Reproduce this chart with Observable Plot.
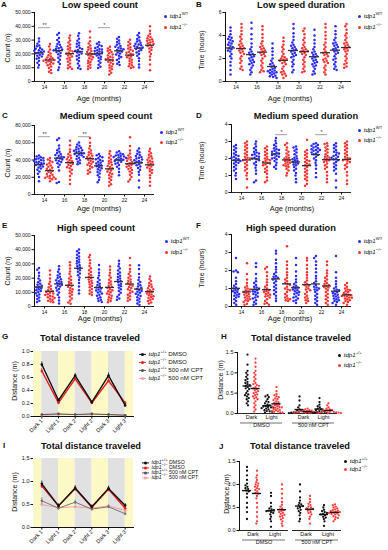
<!DOCTYPE html>
<html><head><meta charset="utf-8">
<script src="https://cdn.jsdelivr.net/npm/d3@7"></script>
<script src="https://cdn.jsdelivr.net/npm/@observablehq/plot@0.6"></script>
<style>
html,body{margin:0;padding:0;background:#fff;}
#root{position:relative;width:388px;height:550px;overflow:hidden;font-family:"Liberation Sans",Arial,Helvetica,sans-serif;color:#111;}
.a{position:absolute;white-space:nowrap;line-height:1;}
.t{font-weight:bold;font-size:9.3px;transform:translate(-50%,-50%);}
.l{font-weight:bold;font-size:8px;}
.yl{font-size:7px;transform:translate(-50%,-50%) rotate(-90deg);}
.xl{font-size:7.4px;transform:translate(-50%,-50%);}
.lg{font-size:6.2px;transform:translateY(-50%);}
.lg sup{font-size:4.2px;vertical-align:3px;line-height:0;}
.sm{font-size:5.2px;}
.dt{display:inline-block;width:3.2px;height:3.2px;border-radius:50%;margin-right:2.5px;vertical-align:middle;}
.ln{display:inline-block;width:7px;height:1.3px;margin-right:2.5px;vertical-align:middle;position:relative;}
.ln b{position:absolute;left:2px;top:-1px;width:3.2px;height:3.2px;border-radius:50%;}
svg{display:block;}
</style></head><body><div id="root"></div>
<script>
// ---------- categories & tick labels ----------
const ages = [14, 16, 18, 20, 22, 24];
const days = ["Dark 1", "Light 1", "Dark 2", "Light 2", "Dark 3", "Light 3"];
const treatments = ["DMSO", "500 nM CPT"];
const phases = ["Dark", "Light"];
const countTicks50 = [0, 10000, 20000, 30000, 40000, 50000];
const countTicks80 = [0, 20000, 40000, 60000, 80000];
const hourTicks6 = [0, 2, 4, 6];
const hourTicks4 = [0, 1, 2, 3, 4];
const distTicks1 = [0, 0.2, 0.4, 0.6, 0.8, 1.0];
const distTicks15 = [0, 0.5, 1.0, 1.5];

// ---------- A: low speed count (per age 14..24) ----------
const lowCountWT = [
 [31200,28900,27400,26100,25500,24300,23800,23100,22600,22200,21700,21300,20800,20400,19900,19300,18700,18100,17200,16400,15100,13600,12000,10200],
 [35200,33800,31500,30100,28700,27200,26600,25400,24900,24100,23600,23200,22700,22100,21400,20600,19700,18500,17300,15800,14200,12600,10100,8300],
 [35000,33200,31000,29500,28100,27300,26000,25100,24200,23500,22900,22300,21600,21000,20200,19300,18400,17200,16000,14800,13100,11500,9800,9000],
 [28400,27300,26500,25700,25000,24300,23600,23100,22600,22100,21700,21200,20700,20100,19400,18800,18000,17200,16100,14900,13500,12100,10700,9800],
 [32300,31000,29800,28600,27500,26600,25800,25100,24500,23900,23400,22900,22300,21700,21000,20300,19500,18600,17700,16600,15500,14200,12800,11900],
 [35100,33500,32000,30800,29800,28900,28100,27400,26800,26200,25700,25200,24700,24100,23500,22800,22000,21100,20000,18600,16900,14800,12300,10100]];
const lowCountKO = [
 [27100,25300,23200,21600,20300,19100,18200,17400,16800,16300,15900,15500,15100,14700,14200,13700,13100,12500,11700,10800,9700,8400,7100,6200],
 [33400,31600,29800,28300,26800,25600,24500,23400,22500,21700,21000,20300,19600,18900,18100,17300,16400,15400,14300,13100,11700,10500,9600,9100],
 [36200,31900,29100,27500,26100,24900,23900,23000,22100,21300,20500,19800,19100,18400,17600,16800,16000,15100,14200,13200,12100,11000,9900,9100],
 [25200,24000,22900,22100,21300,20400,19600,18800,18000,17400,16800,16200,15600,15000,14300,13500,12700,11800,10900,9900,8900,7800,6300,5100],
 [30200,28700,27300,26000,24900,23900,23000,22200,21500,20800,20100,19500,18900,18200,17500,16700,15800,14800,13800,12800,11800,11000,10300,9800],
 [40100,36800,34600,33200,32200,31400,30700,30100,29500,28900,28300,27700,27100,26400,25700,24900,24000,22900,21600,20000,18100,15800,12400,8200]];
const sigA = [{age: 14, y: 39000, label: "**"}, {age: 20, y: 39000, label: "*"}];

// ---------- B: low speed duration (hours) ----------
const lowDurWT = [
 [4.7,4.4,4.1,3.9,3.8,3.7,3.6,3.5,3.4,3.3,3.2,3.1,3.0,2.9,2.8,2.7,2.6,2.4,2.2,2.0,1.7,1.4,1.0,0.6],
 [5.1,4.6,4.1,3.7,3.3,3.0,2.8,2.6,2.5,2.4,2.3,2.2,2.1,2.0,1.9,1.8,1.7,1.6,1.5,1.4,1.2,1.0,0.8,0.6],
 [3.3,2.9,2.6,2.3,2.0,1.8,1.6,1.5,1.4,1.3,1.2,1.1,1.0,0.95,0.9,0.85,0.8,0.75,0.7,0.6,0.5,0.45,0.4,0.3],
 [5.0,4.6,4.2,3.9,3.6,3.4,3.2,3.1,3.0,2.9,2.8,2.7,2.6,2.5,2.4,2.3,2.2,2.1,1.9,1.7,1.5,1.3,1.0,0.8],
 [4.5,4.0,3.6,3.3,3.0,2.8,2.6,2.5,2.4,2.3,2.2,2.1,2.0,1.9,1.8,1.7,1.6,1.5,1.4,1.3,1.1,0.9,0.7,0.6],
 [4.8,4.4,4.1,3.8,3.6,3.4,3.3,3.2,3.1,3.0,2.9,2.8,2.7,2.6,2.5,2.4,2.2,2.0,1.9,1.7,1.5,1.3,1.1,1.0]];
const lowDurKO = [
 [5.0,4.7,4.4,4.1,3.9,3.7,3.5,3.3,3.2,3.1,3.0,2.9,2.8,2.7,2.6,2.5,2.4,2.2,2.0,1.8,1.6,1.3,1.1,1.0],
 [4.8,4.5,4.1,3.8,3.5,3.3,3.1,3.0,2.9,2.8,2.7,2.6,2.5,2.4,2.3,2.2,2.0,1.8,1.6,1.4,1.2,1.0,0.9,0.8],
 [3.8,3.5,3.2,3.0,2.8,2.6,2.4,2.2,2.1,2.0,1.95,1.9,1.8,1.7,1.6,1.5,1.3,1.1,0.9,0.8,0.7,0.6,0.5,0.3],
 [4.6,4.4,4.1,3.8,3.6,3.4,3.2,3.0,2.9,2.8,2.7,2.65,2.6,2.5,2.4,2.3,2.1,1.9,1.7,1.5,1.3,1.1,0.9,0.8],
 [5.0,4.7,4.3,4.0,3.7,3.4,3.2,3.0,2.8,2.6,2.5,2.4,2.3,2.2,2.0,1.9,1.8,1.7,1.6,1.4,1.2,1.0,0.8,0.6],
 [5.0,4.8,4.5,4.2,4.0,3.8,3.6,3.4,3.3,3.2,3.1,3.0,2.9,2.8,2.7,2.6,2.4,2.2,2.0,1.8,1.6,1.5,1.3,1.2]];

// ---------- C: medium speed count ----------
const medCountWT = [
 [45300,44200,43100,42400,41600,40800,40100,39400,38700,38000,37300,36600,35900,35100,34300,33400,32400,31300,30100,28600,26700,24200,20400,15300],
 [65200,63100,56800,53400,51200,49500,48100,46900,45800,44900,44000,43200,42400,41600,40700,39800,38800,37600,36200,34400,31800,27900,14600,13200],
 [60300,58100,56500,55200,54100,53100,52200,51400,50600,49900,49200,48500,47800,47100,46300,45500,44600,43600,42500,41200,39700,38000,36200,35000],
 [47100,45600,44300,43100,42000,40900,39900,38900,37900,36900,35900,34900,33900,32800,31700,30500,29200,27800,26200,24400,22300,19900,16800,14200],
 [50100,48700,47600,46700,45900,45200,44600,44000,43400,42800,42200,41600,41000,40300,39600,38800,37900,36900,35700,34200,32300,29800,26100,22200],
 [53200,50800,48900,47300,45900,44700,43600,42600,41600,40700,39800,38900,38000,37100,36100,35000,33800,32400,30800,28800,26200,22800,16100,8200]];
const medCountKO = [
 [42300,40600,39100,37600,36200,34900,33600,32300,31100,29900,28700,27500,26300,25100,23900,22800,21800,20900,20100,19400,18800,18200,17600,15300],
 [62400,57100,52300,49200,46900,45100,43600,42200,40900,39700,38600,37500,36400,35300,34200,33000,31700,30300,28700,26800,24400,21400,17200,12100],
 [65400,60100,56200,53300,51000,49100,47500,46100,44800,43600,42500,41400,40300,39200,38100,36900,35700,34400,33000,31500,29800,27900,25900,24100],
 [50200,47300,44800,42600,40700,38900,37300,35800,34400,33100,31800,30500,29200,27900,26600,25200,23800,22300,20600,18800,16700,14400,12000,10100],
 [66300,56100,50900,47600,45200,43300,41700,40300,39000,37800,36600,35500,34400,33300,32200,31000,29700,28300,26700,24900,22800,20300,17500,15100],
 [53100,50200,47900,46000,44400,42900,41600,40400,39200,38100,37000,35900,34800,33700,32500,31300,30000,28500,26900,24900,22400,19100,14800,10200]];
const sigC = [{age: 14, y: 67000, label: "**"}, {age: 18, y: 67000, label: "**"}];

// ---------- D: medium speed duration ----------
const medDurWT = [
 [2.8,2.7,2.6,2.5,2.4,2.3,2.2,2.15,2.1,2.05,2.0,1.95,1.9,1.85,1.8,1.75,1.7,1.6,1.5,1.4,1.3,1.15,1.0,0.8],
 [3.0,2.85,2.7,2.6,2.5,2.4,2.35,2.3,2.25,2.2,2.15,2.1,2.05,2.0,1.95,1.9,1.8,1.7,1.6,1.45,1.3,1.1,0.7,0.6],
 [3.2,3.05,2.9,2.8,2.7,2.6,2.55,2.5,2.45,2.4,2.35,2.3,2.25,2.2,2.15,2.1,2.05,2.0,1.95,1.85,1.75,1.6,1.5,1.4],
 [2.7,2.65,2.55,2.45,2.35,2.25,2.15,2.05,2.0,1.95,1.9,1.85,1.8,1.75,1.7,1.65,1.6,1.5,1.4,1.3,1.15,1.0,0.8,0.6],
 [2.9,2.85,2.8,2.75,2.7,2.65,2.6,2.55,2.5,2.5,2.45,2.4,2.35,2.3,2.25,2.2,2.1,2.0,1.9,1.75,1.6,1.4,1.15,0.9],
 [2.9,2.8,2.7,2.6,2.5,2.4,2.35,2.3,2.2,2.15,2.1,2.05,2.0,1.95,1.9,1.8,1.7,1.6,1.5,1.4,1.3,1.1,0.7,0.3]];
const medDurKO = [
 [3.0,2.9,2.8,2.7,2.6,2.5,2.4,2.3,2.2,2.1,2.05,2.0,1.95,1.9,1.8,1.7,1.6,1.5,1.4,1.3,1.15,1.0,0.8,0.3],
 [2.7,2.6,2.5,2.4,2.3,2.2,2.1,2.0,1.95,1.9,1.85,1.8,1.75,1.7,1.65,1.6,1.5,1.4,1.3,1.2,1.1,0.9,0.7,0.6],
 [2.9,2.8,2.65,2.5,2.4,2.3,2.2,2.1,2.05,2.0,1.95,1.9,1.85,1.8,1.75,1.7,1.65,1.6,1.55,1.5,1.4,1.3,1.15,1.0],
 [3.1,2.5,2.4,2.3,2.2,2.1,2.0,1.9,1.85,1.8,1.7,1.65,1.6,1.5,1.4,1.3,1.2,1.1,1.0,0.9,0.8,0.7,0.5,0.4],
 [2.9,2.85,2.75,2.65,2.55,2.45,2.35,2.25,2.15,2.1,2.05,2.0,1.95,1.9,1.85,1.8,1.7,1.6,1.5,1.4,1.2,1.0,0.8,0.6],
 [3.0,2.9,2.8,2.7,2.6,2.5,2.4,2.3,2.2,2.1,2.05,2.0,1.95,1.9,1.85,1.8,1.7,1.6,1.5,1.4,1.2,1.0,0.7,0.5]];
const sigD = [{age: 18, y: 3.4, label: "*"}, {age: 22, y: 3.4, label: "*"}];

// ---------- E: high speed count ----------
const highCountWT = [
 [27200,25800,23700,21600,19800,18300,17100,16100,15300,14600,13900,13300,12700,12100,11500,10900,10200,9400,8500,7500,6400,5200,4100,3200],
 [28400,26200,24500,23100,21900,20900,20000,19200,18500,17800,17200,16600,16000,15400,14700,14000,13200,12300,11200,9900,8300,6400,4200,2100],
 [40100,38900,37600,36400,35200,34100,33100,32100,31100,30200,29300,28400,27500,26600,25600,24500,23300,22000,20500,18700,16600,14100,11400,9200],
 [29300,26100,23800,21800,20100,18600,17300,16100,15100,14200,13400,12600,11900,11200,10500,9800,9100,8300,7500,6600,5700,4800,3900,3100],
 [32200,30100,28300,26700,25300,24000,22800,21700,20700,19700,18800,17900,17000,16100,15200,14200,13200,12100,10900,9600,8200,6800,5600,4800],
 [29100,26400,22800,20400,18600,17200,16000,14900,14000,13200,12400,11700,11000,10300,9600,8900,8200,7400,6500,5500,4400,3300,2200,1100]];
const highCountKO = [
 [25300,22400,19700,17500,15800,14400,13300,12300,11500,10800,10200,9600,9100,8600,8100,7600,7100,6600,6000,5400,4800,4100,3500,3000],
 [31200,29100,26700,24600,22800,21200,19800,18600,17500,16500,15600,14700,13900,13100,12200,11300,10300,9300,8200,7000,5700,4300,2900,2000],
 [36300,34600,32500,30400,28600,27000,25600,24300,23100,22000,21000,20000,19100,18200,17300,16400,15500,14500,13500,12400,11300,10100,9000,8100],
 [28100,25800,23700,21900,20300,18900,17600,16500,15500,14600,13800,13000,12200,11500,10800,10000,9200,8400,7500,6600,5700,4800,3800,3000],
 [34200,29100,26400,24400,22800,21400,20200,19100,18100,17200,16300,15400,14600,13800,13000,12100,11200,10300,9300,8300,7200,6100,5000,4000],
 [21200,19400,17900,16600,15500,14600,13700,12900,12200,11500,10900,10300,9700,9100,8500,7900,7300,6700,6000,5300,4600,3800,2900,2100]];

// ---------- F: high speed duration ----------
const highDurWT = [
 [2.7,2.0,1.95,1.9,1.6,1.4,1.25,1.15,1.05,1.0,0.95,0.9,0.85,0.8,0.75,0.7,0.65,0.6,0.55,0.5,0.4,0.3,0.2,0.1],
 [2.4,2.2,1.8,1.55,1.4,1.3,1.2,1.1,1.05,1.0,0.95,0.9,0.85,0.8,0.75,0.7,0.65,0.55,0.5,0.45,0.35,0.25,0.15,0.1],
 [3.1,2.95,2.6,2.4,2.2,2.05,1.9,1.8,1.7,1.65,1.6,1.55,1.5,1.4,1.3,1.2,1.1,1.0,0.9,0.8,0.7,0.6,0.45,0.3],
 [2.7,2.3,1.95,1.7,1.5,1.35,1.25,1.15,1.1,1.05,1.0,0.95,0.9,0.85,0.8,0.75,0.7,0.65,0.55,0.5,0.45,0.35,0.3,0.2],
 [2.8,2.7,2.5,2.3,2.1,1.9,1.7,1.55,1.4,1.3,1.2,1.1,1.05,1.0,0.95,0.9,0.8,0.7,0.6,0.5,0.4,0.3,0.2,0.1],
 [2.8,1.9,1.6,1.4,1.25,1.1,1.0,0.95,0.9,0.85,0.8,0.75,0.7,0.65,0.6,0.55,0.5,0.45,0.4,0.35,0.3,0.25,0.2,0.1]];
const highDurKO = [
 [2.4,1.8,1.5,1.3,1.15,1.05,1.0,0.95,0.9,0.85,0.8,0.75,0.7,0.65,0.6,0.55,0.5,0.45,0.4,0.35,0.3,0.25,0.15,0.1],
 [2.2,2.1,1.9,1.7,1.5,1.35,1.2,1.1,1.0,0.95,0.9,0.85,0.8,0.75,0.7,0.65,0.6,0.55,0.5,0.4,0.3,0.2,0.15,0.1],
 [3.35,2.5,2.3,2.1,1.9,1.75,1.6,1.5,1.4,1.3,1.25,1.2,1.1,1.0,0.95,0.9,0.8,0.7,0.6,0.5,0.45,0.4,0.35,0.3],
 [2.7,2.55,2.3,2.1,1.9,1.75,1.6,1.45,1.35,1.25,1.2,1.15,1.1,1.0,0.95,0.9,0.8,0.7,0.6,0.5,0.45,0.35,0.3,0.2],
 [2.5,2.3,2.0,1.85,1.7,1.6,1.5,1.4,1.3,1.25,1.2,1.15,1.1,1.05,1.0,0.9,0.8,0.7,0.6,0.5,0.4,0.3,0.2,0.1],
 [1.3,1.2,1.1,1.0,0.95,0.9,0.85,0.8,0.75,0.7,0.65,0.62,0.6,0.58,0.55,0.5,0.48,0.45,0.4,0.35,0.3,0.25,0.2,0.1]];

// ---------- G: total distance, means ± SEM per period ----------
const gWtDmso = [0.80, 0.25, 0.63, 0.22, 0.63, 0.17];
const gWtDmsoErr = [0.04, 0.02, 0.03, 0.02, 0.04, 0.02];
const gKoDmso = [0.70, 0.21, 0.58, 0.21, 0.55, 0.21];
const gKoDmsoErr = [0.04, 0.02, 0.03, 0.02, 0.03, 0.02];
const gWtCpt = [0.03, 0.04, 0.03, 0.04, 0.03, 0.02];
const gWtCptErr = [0.01, 0.01, 0.01, 0.01, 0.01, 0.01];
const gKoCpt = [0.02, 0.03, 0.03, 0.03, 0.03, 0.02];
const gKoCptErr = [0.01, 0.01, 0.01, 0.01, 0.01, 0.01];

// ---------- I: total distance, means ± SEM per period ----------
const iWtDmso = [0.95, 0.47, 0.86, 0.45, 0.85, 0.48];
const iWtDmsoErr = [0.06, 0.04, 0.05, 0.04, 0.05, 0.04];
const iKoDmso = [0.90, 0.47, 0.84, 0.44, 0.83, 0.42];
const iKoDmsoErr = [0.05, 0.04, 0.05, 0.04, 0.05, 0.04];
const iWtCpt = [0.58, 0.42, 0.55, 0.40, 0.45, 0.30];
const iWtCptErr = [0.07, 0.04, 0.05, 0.04, 0.04, 0.04];
const iKoCpt = [0.50, 0.43, 0.45, 0.42, 0.47, 0.37];
const iKoCptErr = [0.05, 0.03, 0.04, 0.03, 0.04, 0.04];

// ---------- H: individual distances ----------
const hDmsoDarkWT = [1.45,1.2,1.05,1.0,0.95,0.9,0.85,0.82,0.78,0.75,0.72,0.7,0.68,0.65,0.62,0.6,0.55,0.5,0.47,0.45,0.42,0.38,0.35,0.3,0.25,0.2];
const hDmsoDarkKO = [1.35,1.25,1.15,1.05,1.0,0.95,0.9,0.85,0.8,0.75,0.72,0.7,0.68,0.65,0.62,0.6,0.57,0.55,0.52,0.5,0.47,0.45,0.42,0.4,0.37,0.35,0.3,0.25,0.2,0.15,0.1,0.05];
const hDmsoLightWT = [0.45,0.42,0.4,0.35,0.3,0.28,0.25,0.22,0.2,0.18,0.17,0.16,0.15,0.14,0.13,0.12,0.1,0.08,0.06,0.05,0.04,0.02];
const hDmsoLightKO = [0.65,0.55,0.48,0.45,0.42,0.4,0.37,0.35,0.33,0.3,0.28,0.26,0.24,0.22,0.2,0.18,0.17,0.16,0.15,0.14,0.12,0.1,0.09,0.08,0.06,0.05,0.04,0.03,0.02];
const hCptDarkWT = [0.42,0.32,0.2,0.15,0.1,0.08,0.06,0.05,0.04,0.03,0.03,0.02,0.02,0.01,0.01,0.01];
const hCptDarkKO = [0.12,0.1,0.08,0.07,0.06,0.05,0.05,0.04,0.04,0.03,0.03,0.02,0.02,0.02,0.01,0.01];
const hCptLightWT = [0.38,0.28,0.22,0.18,0.15,0.12,0.1,0.08,0.06,0.05,0.04,0.03,0.02,0.02,0.01,0.01];
const hCptLightKO = [0.25,0.2,0.15,0.12,0.1,0.08,0.07,0.06,0.05,0.04,0.04,0.03,0.03,0.02,0.02,0.01,0.01];

// ---------- J: individual distances ----------
const jDmsoDarkWT = [1.38,1.3,1.2,1.1,1.02,0.98,0.95,0.92,0.9,0.87,0.85,0.8,0.72,0.6,0.5,0.4,0.25];
const jDmsoDarkKO = [1.3,1.2,1.15,1.1,1.05,1.02,1.0,0.97,0.95,0.92,0.9,0.88,0.85,0.82,0.8,0.75,0.7,0.6,0.5,0.4,0.3,0.2,0.15];
const jDmsoLightWT = [0.82,0.75,0.6,0.52,0.48,0.46,0.44,0.43,0.42,0.4,0.38,0.35,0.3,0.25,0.2,0.08];
const jDmsoLightKO = [1.0,0.9,0.8,0.7,0.62,0.56,0.52,0.48,0.46,0.44,0.42,0.4,0.38,0.36,0.34,0.32,0.3,0.27,0.24,0.2,0.15,0.1];
const jCptDarkWT = [1.0,0.85,0.72,0.65,0.6,0.57,0.55,0.53,0.5,0.48,0.45,0.42,0.38,0.33,0.25,0.2];
const jCptDarkKO = [0.75,0.68,0.62,0.58,0.55,0.52,0.5,0.48,0.47,0.45,0.43,0.4,0.38,0.35,0.3,0.25,0.15];
const jCptLightWT = [0.55,0.5,0.45,0.42,0.4,0.38,0.36,0.35,0.33,0.3,0.28,0.25,0.2,0.1];
const jCptLightKO = [0.57,0.55,0.52,0.5,0.48,0.46,0.44,0.43,0.42,0.41,0.4,0.39,0.38,0.37,0.36,0.35,0.33,0.31,0.29,0.27,0.24,0.2];

// ---------- styling ----------
const blue = "#2a2af2", red = "#f43434", red2 = "#ff3c3c";
const FONT = "Liberation Sans, Arial, sans-serif";
const fmtComma = d3.format(",");
const fmt1 = d3.format(".1f");

const root = document.getElementById("root");
function put(cls, x, y, html) {
  const d = document.createElement("div");
  d.className = "a " + cls; d.style.left = x + "px"; d.style.top = y + "px";
  d.innerHTML = html; root.appendChild(d); return d;
}
function putPlot(svg, x, y) {
  const d = document.createElement("div");
  d.className = "a"; d.style.left = x + "px"; d.style.top = y + "px";
  d.appendChild(svg); root.appendChild(d);
}
function summarize(rows, keys) {
  return d3.flatRollup(rows, vs => {
    const m = d3.mean(vs, d => d.v), s = d3.deviation(vs, d => d.v) / Math.sqrt(vs.length);
    return [m, s];
  }, ...keys.map(k => d => d[k])).map(r => {
    const [m, s] = r[r.length - 1];
    const o = {m, lo: m - s, hi: m + s};
    keys.forEach((k, j) => o[k] = r[j]);
    return o;
  });
}

// ---------- scatter by age panels ----------
function scatterPanel(o) {
  const rows = [];
  ages.forEach((a, i) => {
    o.wt[i].forEach(v => rows.push({age: a, g: "WT", v}));
    o.ko[i].forEach(v => rows.push({age: a, g: "KO", v}));
  });
  const stats = summarize(rows, ["age", "g"]);
  const off = {WT: -5.5, KO: 5.5}, col = {WT: blue, KO: red};
  const marks = [Plot.ruleY([o.domain[0]], {stroke: "#111", strokeWidth: 0.9})];
  ["WT", "KO"].forEach(g => marks.push(Plot.dot(rows.filter(d => d.g === g),
    Plot.dodgeX({anchor: "middle", padding: 0.1}, {fx: "age", y: "v", r: 1.25, fill: col[g], dx: off[g]}))));
  ["WT", "KO"].forEach(g => {
    const st = stats.filter(d => d.g === g);
    marks.push(Plot.ruleX(st, {fx: "age", y1: "lo", y2: "hi", stroke: "#555", strokeWidth: 0.8, dx: off[g]}));
    marks.push(Plot.tickY(st, {fx: "age", y: "m", stroke: "#333", strokeWidth: 1.3, insetLeft: 5.5, insetRight: 5.5, dx: off[g]}));
  });
  if (o.sig) {
    marks.push(Plot.ruleY(o.sig, {fx: "age", y: "y", insetLeft: 4, insetRight: 4, stroke: "#777", strokeWidth: 0.7}));
    marks.push(Plot.text(o.sig, {fx: "age", y: "y", text: "label", dy: -2.5, fontSize: 6, fill: "#555"}));
  }
  return Plot.plot({
    width: o.ml + o.fw + 4, height: o.mt + o.fh + o.mb,
    marginLeft: o.ml, marginRight: 4, marginTop: o.mt, marginBottom: o.mb,
    style: {fontSize: "5px", fontFamily: FONT, background: "transparent", overflow: "visible", color: "#111"},
    y: {domain: o.domain, ticks: o.ticks, tickFormat: o.fmt, tickSize: 2.5, tickPadding: 1.5, line: true, label: null},
    fx: {domain: ages, paddingInner: 0, paddingOuter: o.po, align: o.align, axis: "bottom", tickSize: 2.5, tickPadding: 1.5, label: null},
    marks
  });
}

// ---------- line panels (G, I) ----------
function linePanel(o) {
  const xDomain = [-0.5, days.length - 0.5];
  const bands = [{x1: xDomain[0], x2: 0, dark: false},
    ...days.map((d, i) => ({x1: i, x2: i < days.length - 1 ? i + 1 : xDomain[1], dark: d.startsWith("Dark")}))];
  const marks = [
    Plot.rect(bands.filter(b => !b.dark), {x1: "x1", x2: "x2", y1: () => o.domain[0], y2: () => o.domain[1], fill: "#fcf9c6"}),
    Plot.rect(bands.filter(b => b.dark), {x1: "x1", x2: "x2", y1: () => o.domain[0], y2: () => o.domain[1], fill: "#e1e1e1"})
  ];
  for (const s of o.series) {
    const rows = s.vals.map((v, i) => ({i, v, lo: v - s.err[i], hi: v + s.err[i]}));
    marks.push(Plot.ruleX(rows, {x: "i", y1: "lo", y2: "hi", stroke: s.color, strokeWidth: 0.8}));
    marks.push(Plot.line(rows, {x: "i", y: "v", stroke: s.color, strokeWidth: s.w}));
    marks.push(Plot.dot(rows, {x: "i", y: "v", r: 1.3, fill: s.color}));
  }
  return Plot.plot({
    width: o.ml + o.fw + 4, height: o.mt + o.fh + o.mb,
    marginLeft: o.ml, marginRight: 4, marginTop: o.mt, marginBottom: o.mb,
    style: {fontSize: "5.5px", fontFamily: FONT, background: "transparent", overflow: "visible", color: "#111"},
    x: {domain: xDomain, ticks: days.map((d, i) => i), tickFormat: i => days[i], tickRotate: -45, tickSize: 2.5, tickPadding: 1, line: true, label: null},
    y: {domain: o.domain, ticks: o.ticks, tickFormat: fmt1, tickSize: 2.5, tickPadding: 1.5, line: true, label: null},
    marks
  });
}

// ---------- grouped scatter panels (H, J) ----------
function groupPanel(o) {
  const rows = o.groups.flatMap(gr => gr.vals.map(v => ({t: gr.t, p: gr.p, g: gr.g, v})));
  const stats = summarize(rows, ["t", "p", "g"]);
  const combos = [["Dark", "WT"], ["Dark", "KO"], ["Light", "WT"], ["Light", "KO"]];
  const pi = 0.08, step = o.fw / (treatments.length - pi), bw = step * (1 - pi);
  const inset = bw / 2 - 4.5;
  const marks = [
    Plot.ruleY([0], {stroke: "#111", strokeWidth: 0.9}),
    Plot.ruleY([0], {dy: 9.5, insetLeft: 3, insetRight: 3, stroke: "#111", strokeWidth: 0.6})
  ];
  combos.forEach(([p, g], k) => marks.push(Plot.dot(rows.filter(d => d.p === p && d.g === g),
    Plot.dodgeX({anchor: "middle", padding: 0.1}, {fx: "t", y: "v", r: 1.15, fill: g === "WT" ? "#111" : red2, dx: o.dx[k]}))));
  combos.forEach(([p, g], k) => {
    const st = stats.filter(d => d.p === p && d.g === g);
    marks.push(Plot.ruleX(st, {fx: "t", y1: "lo", y2: "hi", stroke: "#111", strokeWidth: 0.8, dx: o.dx[k]}));
    marks.push(Plot.tickY(st, {fx: "t", y: "m", stroke: "#111", strokeWidth: 1.4, insetLeft: inset, insetRight: inset, dx: o.dx[k]}));
  });
  const lab = treatments.flatMap(t => phases.map(p => ({t, p})));
  phases.forEach((p, j) => marks.push(Plot.text(lab.filter(d => d.p === p),
    {fx: "t", text: "p", frameAnchor: "bottom", lineAnchor: "top", dy: 1.5, dx: j ? o.ldx : -o.ldx, fontSize: 5.5})));
  return Plot.plot({
    width: o.ml + o.fw + 4, height: o.mt + o.fh + o.mb,
    marginLeft: o.ml, marginRight: 4, marginTop: o.mt, marginBottom: o.mb,
    style: {fontSize: "5.5px", fontFamily: FONT, background: "transparent", overflow: "visible", color: "#111"},
    y: {domain: [0, 1.5], ticks: distTicks15, tickFormat: fmt1, tickSize: 2.5, tickPadding: 1.5, line: true, label: null},
    fx: {domain: treatments, paddingInner: pi, paddingOuter: 0, axis: "bottom", tickSize: 0, tickPadding: 10, label: null},
    marks
  });
}

// ---------- build panels ----------
putPlot(scatterPanel({wt: lowCountWT, ko: lowCountKO, domain: [0, 50000], ticks: countTicks50, fmt: fmtComma, sig: sigA,
  ml: 31, fw: 125, mt: 6, fh: 69, mb: 20, po: 0, align: 0.5}), 0, 6);
putPlot(scatterPanel({wt: lowDurWT, ko: lowDurKO, domain: [0, 6], ticks: hourTicks6, fmt: d => d,
  ml: 22, fw: 135, mt: 6, fh: 69, mb: 20, po: 0.21, align: 1}), 194, 6);
putPlot(scatterPanel({wt: medCountWT, ko: medCountKO, domain: [0, 80000], ticks: countTicks80, fmt: fmtComma, sig: sigC,
  ml: 31, fw: 125, mt: 6, fh: 69, mb: 20, po: 0, align: 0.5}), 0, 119);
putPlot(scatterPanel({wt: medDurWT, ko: medDurKO, domain: [0, 4], ticks: hourTicks4, fmt: d => d, sig: sigD,
  ml: 23, fw: 134, mt: 6, fh: 68, mb: 20, po: 0.21, align: 1}), 194, 118);
putPlot(scatterPanel({wt: highCountWT, ko: highCountKO, domain: [0, 50000], ticks: countTicks50, fmt: fmtComma,
  ml: 31, fw: 125, mt: 6, fh: 71, mb: 20, po: 0, align: 0.5}), 0, 229);
putPlot(scatterPanel({wt: highDurWT, ko: highDurKO, domain: [0, 4], ticks: hourTicks4, fmt: d => d,
  ml: 23, fw: 134, mt: 6, fh: 72, mb: 20, po: 0.21, align: 1}), 194, 228);

putPlot(linePanel({domain: [0, 1], ticks: distTicks1, ml: 33, fw: 100, mt: 9, fh: 65, mb: 24,
  series: [
    {vals: gKoCpt, err: gKoCptErr, color: "#f6a0a0", w: 1},
    {vals: gWtCpt, err: gWtCptErr, color: "#555", w: 1},
    {vals: gKoDmso, err: gKoDmsoErr, color: "#e81e1e", w: 1.4},
    {vals: gWtDmso, err: gWtDmsoErr, color: "#111", w: 1.4}]}), 0, 342);
putPlot(linePanel({domain: [0, 1.5], ticks: distTicks15, ml: 33, fw: 100, mt: 9, fh: 69, mb: 22,
  series: [
    {vals: iKoCpt, err: iKoCptErr, color: "#f6a0a0", w: 1},
    {vals: iWtCpt, err: iWtCptErr, color: "#777", w: 1},
    {vals: iKoDmso, err: iKoDmsoErr, color: "#e81e1e", w: 1.4},
    {vals: iWtDmso, err: iWtDmsoErr, color: "#111", w: 1.4}]}), 0, 449);

putPlot(groupPanel({ml: 43, fw: 100, mt: 12, fh: 61, mb: 20, dx: [-14, -6, 6, 15], ldx: 10,
  groups: [
    {t: "DMSO", p: "Dark", g: "WT", vals: hDmsoDarkWT}, {t: "DMSO", p: "Dark", g: "KO", vals: hDmsoDarkKO},
    {t: "DMSO", p: "Light", g: "WT", vals: hDmsoLightWT}, {t: "DMSO", p: "Light", g: "KO", vals: hDmsoLightKO},
    {t: "500 nM CPT", p: "Dark", g: "WT", vals: hCptDarkWT}, {t: "500 nM CPT", p: "Dark", g: "KO", vals: hCptDarkKO},
    {t: "500 nM CPT", p: "Light", g: "WT", vals: hCptLightWT}, {t: "500 nM CPT", p: "Light", g: "KO", vals: hCptLightKO}]}), 194, 340);
putPlot(groupPanel({ml: 45, fw: 102, mt: 11, fh: 69, mb: 20, dx: [-17, -7, 7, 18], ldx: 11,
  groups: [
    {t: "DMSO", p: "Dark", g: "WT", vals: jDmsoDarkWT}, {t: "DMSO", p: "Dark", g: "KO", vals: jDmsoDarkKO},
    {t: "DMSO", p: "Light", g: "WT", vals: jDmsoLightWT}, {t: "DMSO", p: "Light", g: "KO", vals: jDmsoLightKO},
    {t: "500 nM CPT", p: "Dark", g: "WT", vals: jCptDarkWT}, {t: "500 nM CPT", p: "Dark", g: "KO", vals: jCptDarkKO},
    {t: "500 nM CPT", p: "Light", g: "WT", vals: jCptLightWT}, {t: "500 nM CPT", p: "Light", g: "KO", vals: jCptLightKO}]}), 194, 450);

// ---------- text: letters, titles, axis titles, legends ----------
const letters = [["A",1,1],["B",196,1],["C",2,112],["D",196,112],["E",2,222],["F",196,222],["G",2,333],["H",221,333],["I",3,442],["J",219,443]];
letters.forEach(([s,x,y]) => put("l", x, y, s));
const titles = [["Low speed count",100,5.5],["Low speed duration",301,5.5],["Medium speed count",106,117],["Medium speed duration",306,117],
  ["High speed count",96,229],["High speed duration",291,229],["Total distance traveled",90,339],["Total distance traveled",301,339],
  ["Total distance traveled",91,447],["Total distance traveled",300,447]];
titles.forEach(([s,x,y]) => put("t", x, y, s));
const ylabs = [["Count (n)",6.5,48],["Time (hours)",201,50],["Count (n)",6.5,163],["Time (hours)",201,161],["Count (n)",6.5,271],
  ["Time (hours)",201,268],["Distance (m)",14,381],["Distance (m)",220,380],["Distance (m)",14,492],["Distance (m)",226,494]];
ylabs.forEach(([s,x,y]) => put("yl", x, y, s));
[[99,99],[290,99],[99,209],[292,209],[100,319],[290,319]].forEach(([x,y]) => put("xl", x, y, "Age (months)"));

function geno(sup) { return `<i>tdp1</i><sup>${sup}</sup>`; }
[[164,[16,27]],[358,[16,27]],[160,[132,142]],[358,[130,140]],[165,[241,252]],[358,[241,252]]].forEach(([x,[y1,y2]]) => {
  put("lg", x, y1, `<span class="dt" style="background:${blue}"></span>${geno("WT")}`);
  put("lg", x, y2, `<span class="dt" style="background:${red}"></span>${geno("−/−")}`);
});
const lineLegend = [["#111","+/+","DMSO"],["#e81e1e","−/−","DMSO"],["#555","+/+","500 nM CPT"],["#f6a0a0","−/−","500 nM CPT"]];
lineLegend.forEach(([c,g,t],k) => put("lg", 139, 354 + 8*k, `<span class="ln" style="background:${c}"><b style="background:${c}"></b></span>${geno(g)} ${t}`));
lineLegend.forEach(([c,g,t],k) => put("lg sm", 142, 463 + 5*k, `<span class="ln" style="background:${c}"><b style="background:${c}"></b></span>${geno(g)} ${t}`));
put("lg", 338, 355, `<span class="dt" style="background:#111"></span>${geno("+/+")}`);
put("lg", 338, 365, `<span class="dt" style="background:${red2}"></span>${geno("−/−")}`);
put("lg", 344, 461, `<span class="dt" style="background:#111"></span>${geno("+/+")}`);
put("lg", 344, 469, `<span class="dt" style="background:${red2}"></span>${geno("−/−")}`);
</script></body></html>
